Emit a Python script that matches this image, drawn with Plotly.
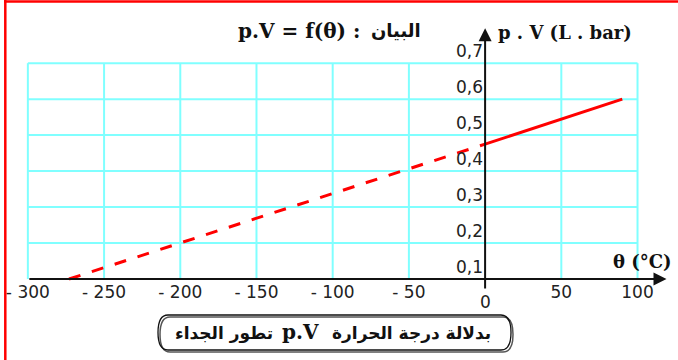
import plotly.graph_objects as go

# ---- data -------------------------------------------------------------
theta_extrapolated = [-273, 0]        # °C, dashed part (extrapolation)
pv_extrapolated = [0.1, 0.475]        # L.bar
theta_measured = [0, 90]              # °C, solid part
pv_measured = [0.475, 0.6]            # L.bar

x_ticks = [-300, -250, -200, -150, -100, -50, 0, 50, 100]
x_tick_text = ["- 300", "- 250", "- 200", "- 150", "- 100", "- 50", "", "50", "100"]
y_ticks = [0.1, 0.2, 0.3, 0.4, 0.5, 0.6, 0.7]
y_tick_text = ["0,1", "0,2", "0,3", "0,4", "0,5", "0,6", "0,7"]

# ---- geometry ---------------------------------------------------------
W, H = 678, 360
L, R, T, B = 5, 10, 20, 45
PW, PH = W - L - R, H - T - B
X_RANGE = [-315, 120]
Y_RANGE = [0.0, 0.82]


def px(xpix):
    return (xpix - L) / PW


def py(ypix):
    return 1 - (ypix - T) / PH


GRID = "#80ffff"
INK = "#111"
TICK_FONT = dict(family="DejaVu Sans", size=17, color="#222")
SERIF_B = "DejaVu Serif"
ARABIC_B = "DejaVu Sans"

fig = go.Figure()

fig.add_trace(go.Scatter(
    x=theta_extrapolated, y=pv_extrapolated, mode="lines",
    line=dict(color="#ff0000", width=3, dash="12px,12px"),
    hoverinfo="skip", showlegend=False))
fig.add_trace(go.Scatter(
    x=theta_measured, y=pv_measured, mode="lines",
    line=dict(color="#ff0000", width=3),
    hoverinfo="skip", showlegend=False))

shapes = []
# cyan grid limited to the labelled box
for xv in x_ticks:
    if xv != 0:
        shapes.append(dict(type="line", xref="x", yref="y", x0=xv, x1=xv,
                           y0=y_ticks[0], y1=y_ticks[-1],
                           line=dict(color=GRID, width=2), layer="below"))
for yv in y_ticks[1:]:
    shapes.append(dict(type="line", xref="x", yref="y", x0=x_ticks[0], x1=x_ticks[-1],
                       y0=yv, y1=yv, line=dict(color=GRID, width=2), layer="below"))

# red frame on the left and top edges
shapes.append(dict(type="line", xref="paper", yref="paper",
                   x0=px(5.3), x1=px(5.3), y0=py(0), y1=py(H),
                   line=dict(color="#ff0000", width=2.5)))
shapes.append(dict(type="line", xref="paper", yref="paper",
                   x0=px(4), x1=px(W), y0=py(1.6), y1=py(1.6),
                   line=dict(color="#ff0000", width=2.5)))


# caption box with rounded ends and a small drop shadow
def capsule(x0, x1, y0, y1, r):
    ym = (y0 + y1) / 2
    return (f"M {px(x0 + r)},{py(y0)} L {px(x1 - r)},{py(y0)} "
            f"Q {px(x1)},{py(y0)} {px(x1)},{py(ym)} "
            f"Q {px(x1)},{py(y1)} {px(x1 - r)},{py(y1)} "
            f"L {px(x0 + r)},{py(y1)} "
            f"Q {px(x0)},{py(y1)} {px(x0)},{py(ym)} "
            f"Q {px(x0)},{py(y0)} {px(x0 + r)},{py(y0)} Z")


shapes.append(dict(type="path", xref="paper", yref="paper",
                   path=capsule(160, 513, 317, 352, 10),
                   line=dict(color="#555", width=1.5)))
shapes.append(dict(type="path", xref="paper", yref="paper",
                   path=capsule(158, 511, 315, 350, 10),
                   line=dict(color=INK, width=1.3)))

annotations = []


def label(text, xpix, ypix, family, size, anchor="center"):
    annotations.append(dict(x=px(xpix), y=py(ypix), xref="paper", yref="paper",
                            text=f"<b>{text}</b>", showarrow=False,
                            xanchor=anchor, yanchor="middle",
                            font=dict(family=family, size=size, color=INK)))


# axes with arrow heads
annotations.append(dict(x=119, y=0.1, ax=-300, ay=0.1, xref="x", yref="y",
                        axref="x", ayref="y", text="", showarrow=True,
                        arrowhead=2, arrowsize=1.3, arrowwidth=2, arrowcolor=INK))
annotations.append(dict(x=0, y=0.797, ax=0, ay=0.0695, xref="x", yref="y",
                        axref="x", ayref="y", text="", showarrow=True,
                        arrowhead=2, arrowsize=1.3, arrowwidth=2, arrowcolor=INK))
# origin label
annotations.append(dict(x=0, y=0.1, xref="x", yref="y", text="0", showarrow=False,
                        yshift=-23, font=TICK_FONT))

# axis titles
label("p . V (L . bar)", 496, 32, SERIF_B, 18, "left")
label("θ (°C)", 611, 261, SERIF_B, 18, "left")

# chart title
label("p.V = f(θ) :", 362, 31, SERIF_B, 20, "right")
label("البيان", 369, 30, ARABIC_B, 18, "left")

# caption inside the rounded box
label("تطور الجداء", 224, 333, ARABIC_B, 17)
label("p.V", 300, 332, SERIF_B, 20)
label("بدلالة درجة الحرارة", 411, 333, ARABIC_B, 17)

fig.update_layout(
    width=W, height=H,
    margin=dict(l=L, r=R, t=T, b=B, pad=0, autoexpand=False),
    paper_bgcolor="white", plot_bgcolor="white",
    shapes=shapes, annotations=annotations,
    showlegend=False,
    xaxis=dict(range=X_RANGE, showgrid=False, zeroline=False, showline=False,
               tickmode="array", tickvals=x_ticks, ticktext=x_tick_text,
               ticks="", tickfont=TICK_FONT, anchor="free",
               position=(0.1 - Y_RANGE[0]) / (Y_RANGE[1] - Y_RANGE[0]),
               ticklabelstandoff=1, automargin=False, fixedrange=True),
    yaxis=dict(range=Y_RANGE, showgrid=False, zeroline=False, showline=False,
               tickmode="array", tickvals=y_ticks, ticktext=y_tick_text,
               ticks="", tickfont=TICK_FONT, anchor="free",
               position=(0 - X_RANGE[0]) / (X_RANGE[1] - X_RANGE[0]),
               ticklabelshift=-12, ticklabelstandoff=2, automargin=False,
               fixedrange=True),
)

fig.write_html("out.html", config={"displayModeBar": False})
